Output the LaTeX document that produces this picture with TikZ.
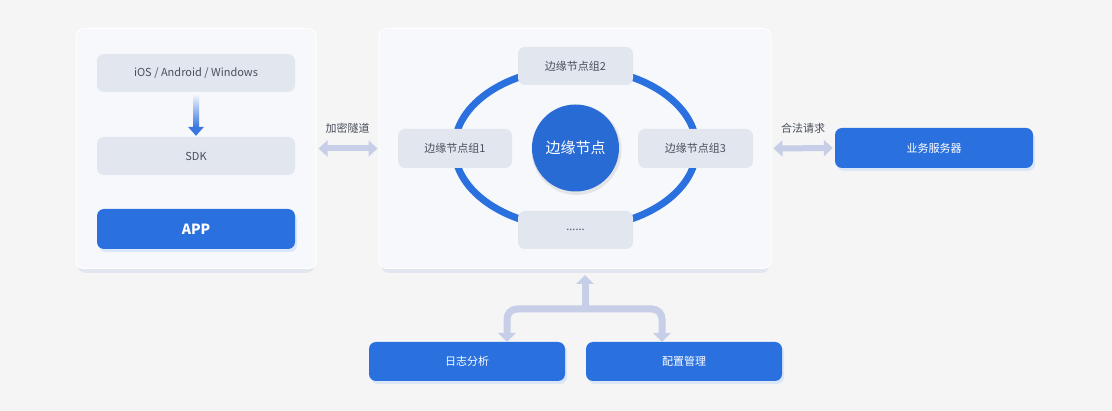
\documentclass[tikz,border=0pt]{standalone}
\usepackage{fontspec}
\setmainfont{Noto Sans CJK SC}
\usetikzlibrary{arrows.meta,calc}
\definecolor{bgc}{HTML}{F5F5F6}
\definecolor{panelc}{HTML}{F6F8FB}
\definecolor{panelsh}{HTML}{E2E6EF}
\definecolor{lightc}{HTML}{E1E6EF}
\definecolor{bluec}{HTML}{2A71DF}
\definecolor{ringc}{HTML}{2A70DE}
\definecolor{tgray}{HTML}{4A4F5A}
\definecolor{arrc}{HTML}{C6CEE8}
\definecolor{gradblue}{HTML}{3A78E0}
\tikzset{
  fs/.style={font=\fontsize{#1}{#1}\selectfont},
  panel/.style={rounded corners=8pt, fill=panelc, draw=white, line width=1pt, minimum width=240pt, minimum height=240pt, inner sep=0pt},
  lbox/.style={rounded corners=7pt, fill=lightc, text=tgray, fs=11, inner sep=0pt},
  bbox/.style={rounded corners=7pt, fill=bluec, text=white, fs=11, inner sep=0pt},
  dbl/.style={draw=arrc, line width=6pt, {Triangle[width=16pt,length=9pt]}-{Triangle[width=16pt,length=9pt]}},
  conn/.style={draw=arrc, line width=7pt, rounded corners=10pt},
  lbl/.style={text=tgray, fs=11, inner sep=0pt},
}
\begin{document}
\begin{tikzpicture}[x=1pt,y=-1pt]
\useasboundingbox (0,0) rectangle (1112,411);
\fill[bgc] (0,0) rectangle (1112,411);

% panel shadows
\fill[panelsh, rounded corners=8pt] (78,34) rectangle (314,273);
\fill[panelsh, rounded corners=8pt] (381,34) rectangle (769,273);

% panels
\node[panel] (leftpanel) at (196,148.5) {};
\node[panel, minimum width=392pt] (midpanel) at (575,148.5) {};

% left panel contents
\node[lbox, minimum width=198pt, minimum height=38pt] (ios) at (196,73) {iOS / Android / Windows};
\node[lbox, minimum width=198pt, minimum height=38pt] (sdk) at (196,156) {SDK};
\fill[bluec!25, opacity=0.6, rounded corners=7pt] (99,213) rectangle (297,252);
\node[bbox, minimum width=198pt, minimum height=40pt, fs=14] (app) at (196,229) {\bfseries APP};

% gradient arrow ios -> sdk
\shade[top color=bluec!8, bottom color=gradblue] ($(ios.south)+(-3,3)$) rectangle ($(sdk.north)+(3,-10)$);
\fill[gradblue] ($(sdk.north)+(-8,-10)$) -- ($(sdk.north)+(8,-10)$) -- ($(sdk.north)+(0,-1)$) -- cycle;

% ring
\draw[ringc, line width=7pt] (575.5,148) ellipse [x radius=121, y radius=80];

% group boxes
\node[lbox, minimum width=115pt, minimum height=38pt] (g2) at (575.5,66) {边缘节点组2};
\node[lbox, minimum width=114pt, minimum height=39pt] (g1) at (455,148.5) {边缘节点组1};
\node[lbox, minimum width=115pt, minimum height=39pt] (g3) at (695.5,148.5) {边缘节点组3};
\node[lbox, minimum width=115pt, minimum height=38pt] (gd) at (575.5,230) {......};

% core
\fill[black, opacity=0.08] (576.5,150) circle (45);
\node[circle, fill=bluec!95!black, minimum size=87pt, inner sep=0pt, text=white, fs=15] (core) at (575.5,148) {边缘节点};

% server
\fill[bluec!25, opacity=0.6, rounded corners=7pt] (837,132) rectangle (1035,171);
\node[bbox, minimum width=198pt, minimum height=40pt] (server) at (934,148) {业务服务器};

% bottom boxes
\fill[bluec!25, opacity=0.6, rounded corners=7pt] (371,345) rectangle (567,384);
\fill[bluec!25, opacity=0.6, rounded corners=7pt] (588,345) rectangle (784,384);
\node[bbox, minimum width=196pt, minimum height=39pt] (log) at (467,361.5) {日志分析};
\node[bbox, minimum width=196pt, minimum height=39pt] (cfg) at (684,361.5) {配置管理};

% double arrows
\draw[dbl, shorten <=2pt, shorten >=1pt] (leftpanel.east) -- (midpanel.west);
\node[lbl] (lab1) at ($(leftpanel.east)!0.5!(midpanel.west)+(0,-20)$) {加密隧道};
\draw[dbl, shorten <=2pt, shorten >=2pt] (midpanel.east) -- (server.west);
\node[lbl] (lab2) at ($(midpanel.east)!0.5!(server.west)+(0,-20)$) {合法请求};

% bottom tree
\coordinate (hub) at (585,309);
\coordinate (j1) at (507,342);
\coordinate (j2) at (662,342);
\coordinate (up) at (585,275);
\draw[conn, -{Triangle[width=17pt,length=9pt]}] (hub) -| (j1);
\draw[conn, -{Triangle[width=17pt,length=9pt]}] (hub) -| (j2);
\draw[conn, -{Triangle[width=17pt,length=9pt]}] (hub) -- (up);
\end{tikzpicture}
\end{document}
